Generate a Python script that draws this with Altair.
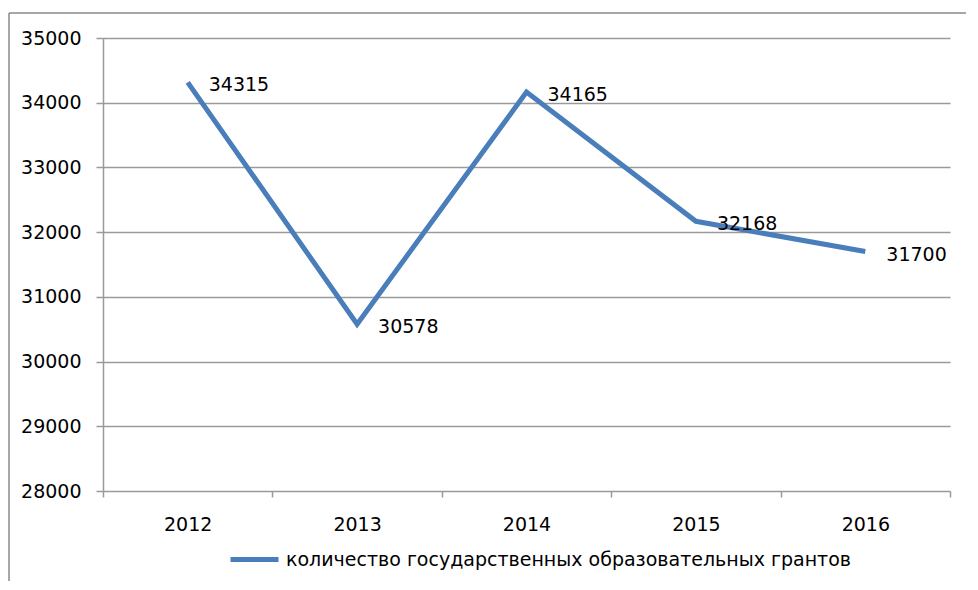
import altair as alt
import pandas as pd

years = ["2012", "2013", "2014", "2015", "2016"]
grants = [34315, 30578, 34165, 32168, 31700]
series_name = "количество государственных образовательных грантов"
y_ticks = [28000, 29000, 30000, 31000, 32000, 33000, 34000, 35000]

df = pd.DataFrame({"year": years, "value": grants, "series": [series_name] * len(years)})

FONT = "DejaVu Sans"
FS = 19
GRAY = "#9a9a9a"
BLUE = "#4a7ebb"
W, H = 847, 453

x_enc = alt.X(
    "year:O",
    scale=alt.Scale(type="band", paddingInner=0, paddingOuter=0),
    bandPosition=0.5,
    axis=alt.Axis(
        title=None, labelAngle=0, tickBand="extent", domain=False,
        ticks=True, tickSize=6, tickColor=GRAY, tickWidth=1.5,
        labelPadding=18, labelFontSize=FS, labelFont=FONT, labelColor="black",
        grid=False,
    ),
)
y_enc = alt.Y(
    "value:Q",
    scale=alt.Scale(domain=[28000, 35000], nice=False, zero=False),
    axis=alt.Axis(
        values=y_ticks, format="d", title=None,
        ticks=True, tickSize=7, tickColor=GRAY, tickWidth=1.5,
        domain=True, domainColor=GRAY, domainWidth=1.5,
        grid=True, gridColor=GRAY, gridWidth=1.5,
        labelPadding=15, labelFontSize=FS, labelFont=FONT, labelColor="black",
    ),
)

one = pd.DataFrame({"a": [0]})
frame_left = alt.Chart(one).mark_rule(color="#8a8a8a", strokeWidth=1.5).encode(
    x=alt.value(-94), y=alt.value(-25), y2=alt.value(700)
)
frame_top = alt.Chart(one).mark_rule(color="#8a8a8a", strokeWidth=1.5).encode(
    x=alt.value(-94), x2=alt.value(1000), y=alt.value(-25)
)

line = alt.Chart(df).mark_line(strokeWidth=5).encode(
    x=x_enc,
    y=y_enc,
    color=alt.Color(
        "series:N",
        scale=alt.Scale(range=[BLUE]),
        legend=alt.Legend(
            title=None, orient="none", legendX=125, legendY=495,
            symbolType="stroke", symbolSize=2304, symbolStrokeWidth=5,
            labelFontSize=FS, labelFont=FONT, labelColor="black",
            labelLimit=0, labelOffset=5, padding=0, direction="horizontal",
        ),
    ),
)

labels = alt.Chart(df).mark_text(
    align="left", baseline="middle", dx=21, dy=3, fontSize=FS, font=FONT, color="black"
).encode(
    x=alt.X("year:O", bandPosition=0.5),
    y="value:Q",
    text=alt.Text("value:Q", format="d"),
)

chart = alt.layer(frame_left, frame_top, line, labels).properties(
    width=W,
    height=H,
    padding={"left": 95, "top": 30, "right": 16, "bottom": 90},
    autosize=alt.AutoSizeParams(type="none"),
).configure_view(stroke=None)

chart.save("out.html", embed_options={"renderer": "svg", "actions": False})
